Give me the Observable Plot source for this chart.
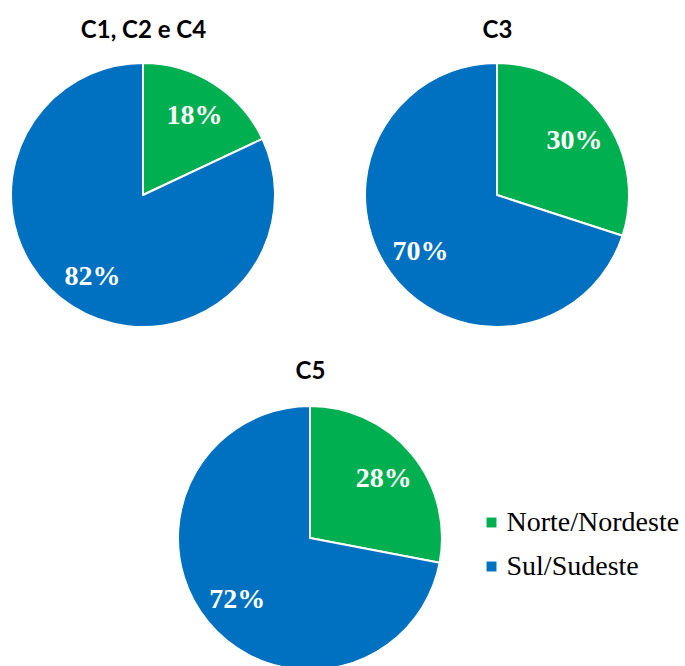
<!DOCTYPE html>
<html><head><meta charset="utf-8">
<script src="https://cdn.jsdelivr.net/npm/d3@7"></script>
<script src="https://cdn.jsdelivr.net/npm/@observablehq/plot@0.6"></script>
<style>body{margin:0;background:#fff;overflow:hidden}</style>
</head><body><div id="chart"></div>
<script>
// ---- data ----
const groups = ["C1, C2 e C4", "C3", "C5"];
const regions = ["Norte/Nordeste", "Sul/Sudeste"];
const norteNordeste = [18, 30, 28];
const sulSudeste = [82, 70, 72];
const colors = ["#00B050", "#0070C0"];

// ---- layout ----
const W = 685, H = 666;
const centers = [[143, 195], [497, 195], [310, 538]];
const R = 132;
const titleY = [30, 30, 371];
const legendX = 491, legendTextX = 506;
const legendY = [522, 566];

const slices = [];
groups.forEach((g, i) => {
  const vals = [norteNordeste[i], sulSudeste[i]];
  const arcs = d3.pie().sort(null)(vals);
  arcs.forEach((a, j) => {
    const mid = (a.startAngle + a.endAngle) / 2;
    const lr = R * 0.72;
    slices.push({
      group: g, region: regions[j], value: vals[j],
      startAngle: a.startAngle, endAngle: a.endAngle,
      cx: centers[i][0], cy: centers[i][1],
      lx: centers[i][0] + lr * Math.sin(mid),
      ly: centers[i][1] - lr * Math.cos(mid)
    });
  });
});

const pieMark = (index, scales, values, dimensions, context) => {
  const g = d3.create("svg:g");
  const arc = d3.arc().innerRadius(0);
  for (const s of slices) {
    const r = Math.abs(scales.x(s.cx + R) - scales.x(s.cx));
    g.append("path")
      .attr("transform", `translate(${scales.x(s.cx)},${scales.y(s.cy)})`)
      .attr("d", arc.outerRadius(r)({startAngle: s.startAngle, endAngle: s.endAngle}))
      .attr("fill", scales.color(s.region))
      .attr("stroke", "white")
      .attr("stroke-width", 2)
      .attr("stroke-linejoin", "round");
  }
  return g.node();
};

const chart = Plot.plot({
  width: W, height: H,
  margin: 0,
  x: {domain: [0, W], range: [0, W], axis: null},
  y: {domain: [0, H], range: [0, H], axis: null},
  color: {domain: regions, range: colors},
  style: {background: "white"},
  marks: [
    pieMark,
    Plot.text(slices, {x: "lx", y: "ly", text: d => d.value + "%", fill: "white",
      fontFamily: "Liberation Serif", fontWeight: "bold", fontSize: 28}),
    Plot.text(groups, {x: (d, i) => centers[i][0], y: (d, i) => titleY[i], text: d => d,
      fontFamily: "Lato", fontWeight: "bold", fontSize: 24, fill: "black"}),
    Plot.dot(regions, {x: () => legendX, y: (d, i) => legendY[i], fill: d => d,
      symbol: "square", r: 5.6}),
    Plot.text(regions, {x: () => legendTextX, y: (d, i) => legendY[i], text: d => d,
      textAnchor: "start", fontFamily: "Liberation Serif", fontSize: 28, fill: "black"})
  ]
});
document.getElementById("chart").appendChild(chart);
</script>
</body></html>
